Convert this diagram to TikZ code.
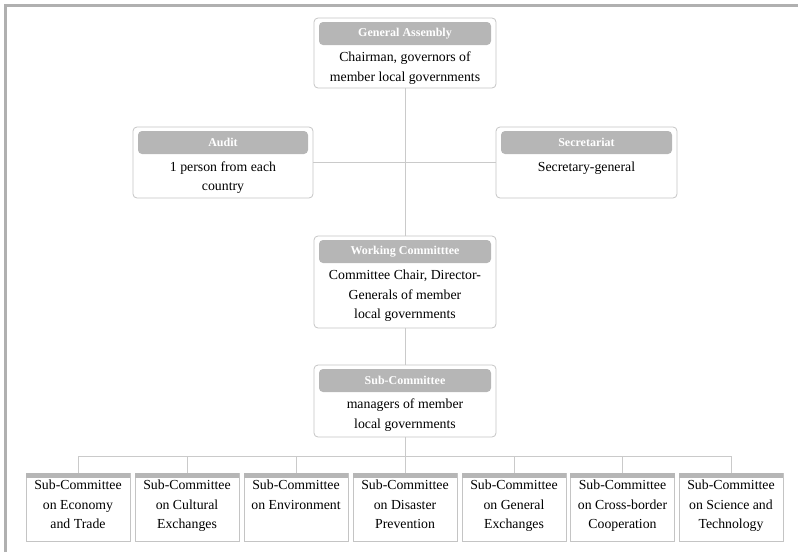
\documentclass[tikz,border=0pt]{standalone}
\usepackage{fontspec}
\setmainfont{Liberation Serif}
\usepackage{tikz}

\definecolor{framegray}{HTML}{B0B0B0}
\definecolor{linegray}{HTML}{CACACA}
\definecolor{boxgray}{HTML}{C4C4C4}
\definecolor{headgray}{HTML}{B6B6B6}

\begin{document}
\begin{tikzpicture}[x=1pt,y=-1pt,
				unit/.style={rectangle, draw=boxgray, line width=0.8pt, rounded corners=4pt, minimum width=182pt},
				head/.style={rectangle, fill=headgray, rounded corners=4pt, minimum width=172pt, minimum height=23pt, inner sep=0pt, text=white, font=\fontsize{12}{14}\selectfont\bfseries},
				body/.style={align=center, inner sep=0pt, font=\fontsize{13.8}{19.5}\selectfont},
				subunit/.style={rectangle, draw=boxgray, line width=0.8pt, minimum width=104pt, minimum height=68pt},
				subbar/.style={rectangle, fill=headgray, minimum width=104.8pt, minimum height=5pt, inner sep=0pt},
				link/.style={draw=linegray, line width=1pt}]
	\useasboundingbox (0,0) rectangle (798,552);
	\draw[framegray, line width=3pt] (5,552) -- (5,5) -- (798,5);
	% upper boxes
	\node[unit, minimum height=70pt] (GA) at (405,53) {};
	\node[head] (GAt) at (405,33.5) {General Assembly};
	\node[body] (GAb) at (405,68) {Chairman, governors of\\member local governments};
	\node[unit, minimum width=180pt, minimum height=71pt] (AU) at (223,162.5) {};
	\node[head, minimum width=170pt] (AUt) at (223,142.5) {Audit};
	\node[body] (AUb) at (223,177.5) {1 person from each\\country};
	\node[unit, minimum width=181pt, minimum height=71pt] (SE) at (586.5,162.5) {};
	\node[head, minimum width=171pt] (SEt) at (586.5,142.5) {Secretariat};
	\node[body] (SEb) at (586.5,168) {Secretary-general};
	\node[unit, minimum height=92pt] (WC) at (405,282) {};
	\node[head] (WCt) at (405,251.5) {Working Committtee};
	\node[body] (WCb) at (405,296) {Committee Chair, Director-\\Generals of member\\local governments};
	\node[unit, minimum height=72pt] (SC) at (405,401) {};
	\node[head] (SCt) at (405,380.5) {Sub-Committee};
	\node[body] (SCb) at (405,415) {managers of member\\local governments};
	\coordinate (bus) at (405,456);
	\draw[link] (GA.south) -- (WC.north);
	\draw[link] (AU.east) -- (SE.west);
	\draw[link] (WC.south) -- (SC.north);
	\draw[link] (SC.south) -- (bus);
	% sub-committees
	\foreach \i/\x/\txt in {1/78/{Sub-Committee\\on Economy\\and Trade},
			2/187/{Sub-Committee\\on Cultural\\Exchanges},
			3/296/{Sub-Committee\\on Environment},
			4/405/{Sub-Committee\\on Disaster\\Prevention},
			5/514/{Sub-Committee\\on General\\Exchanges},
			6/622.5/{Sub-Committee\\on Cross-border\\Cooperation},
			7/731/{Sub-Committee\\on Science and\\Technology}}{
		\node[subunit] (S\i) at (\x,507) {};
		\node[subbar] (S\i t) at (\x,475.5) {};
		\node[body, anchor=north] (S\i b) at (\x,480) {\txt};
		\draw[link] (S\i.north) |- (bus);
	}
\end{tikzpicture}
\end{document}
